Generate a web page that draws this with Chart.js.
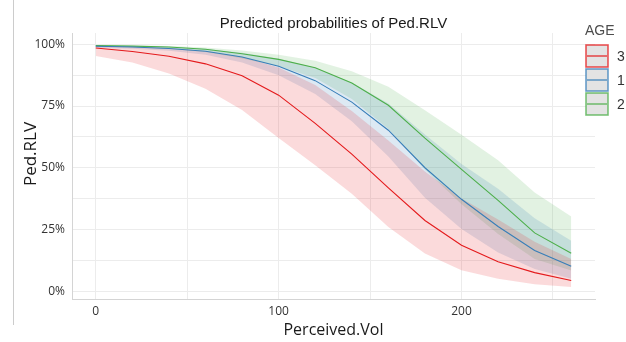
<!DOCTYPE html>
<html>
<head>
<meta charset="utf-8">
<script src="https://cdn.jsdelivr.net/npm/chart.js@4/dist/chart.umd.min.js"></script>
<style>
  html, body { margin: 0; padding: 0; background: #ffffff; }
  #wrap { width: 626px; height: 342px; }
</style>
</head>
<body>
<div id="wrap"><canvas id="my_chart" width="626" height="342"></canvas></div>
<script>
// x positions (Perceived.Vol)
var perceivedVol = [0, 20, 40, 60, 80, 100, 120, 140, 160, 180, 200, 220, 240, 260];

// predicted probabilities (%) per AGE group, with confidence band
var age3 = [98.5, 97.1, 95.2, 92.1, 87.3, 79.4, 68.0, 55.5, 41.8, 28.6, 18.6, 11.9, 7.5, 4.3];
var age3Low = [95.3, 92.6, 88.2, 82.0, 73.4, 62.0, 51.0, 39.5, 26.0, 15.2, 8.5, 5.0, 2.8, 1.7];
var age3High = [99.5, 99.1, 98.5, 97.3, 95.0, 90.6, 83.5, 73.0, 61.0, 48.5, 37.5, 29.0, 20.0, 13.0];

var age1 = [99.2, 98.9, 98.3, 97.2, 94.9, 91.1, 85.3, 76.6, 65.2, 50.0, 37.2, 26.2, 16.5, 10.1];
var age1Low = [98.6, 98.2, 97.4, 95.8, 92.6, 87.5, 79.9, 68.8, 54.5, 37.8, 25.2, 15.6, 9.0, 5.0];
var age1High = [99.5, 99.35, 99.0, 98.2, 96.6, 94.2, 90.5, 84.5, 76.0, 63.5, 51.5, 41.5, 29.5, 20.4];

var age2 = [99.5, 99.3, 98.9, 98.0, 96.2, 93.9, 90.5, 84.3, 75.3, 62.0, 49.3, 36.8, 23.6, 15.3];
var age2Low = [99.1, 98.8, 98.2, 96.9, 94.3, 91.1, 86.4, 77.9, 65.7, 49.3, 35.2, 23.1, 13.0, 8.3];
var age2High = [99.7, 99.6, 99.3, 98.7, 97.5, 95.8, 93.4, 89.1, 82.8, 73.3, 63.4, 53.0, 40.0, 30.2];

// legend order and tick values
var legendLabels = ['3', '1', '2'];
var xTicks = [0, 50, 100, 150, 200, 250];
var xTickLabels = [0, 100, 200];
var yTicks = [0, 12.5, 25, 37.5, 50, 62.5, 75, 87.5, 100];
var yTickLabels = [0, 25, 50, 75, 100];

const RED = '#E41A1C';
const BLUE = '#377EB8';
const GREEN = '#4DAF4A';
const COLORS = [RED, BLUE, GREEN];

function pts(values) {
    return values.map(function (v, i) { return {x: perceivedVol[i], y: v}; });
}

function band(values, color, fillNext) {
    return {
        data: pts(values),
        borderColor: 'transparent',
        borderWidth: 0,
        backgroundColor: color,
        pointRadius: 0,
        fill: fillNext ? '+1' : false,
        tension: 0,
        order: 2
    };
}

function line(values, color) {
    return {
        data: pts(values),
        borderColor: color,
        borderWidth: 1.1,
        pointRadius: 0,
        fill: false,
        tension: 0,
        order: 0
    };
}

// extra text: title, y title, legend, frame line
var extras = {
    id: 'extras',
    afterDraw: function (chart) {
        var c = chart.ctx;
        var area = chart.chartArea;
        c.save();
        c.strokeStyle = '#cccccc';
        c.lineWidth = 1;
        c.beginPath();
        c.moveTo(13.5, 0);
        c.lineTo(13.5, 325);
        c.stroke();

        c.fillStyle = '#1a1a1a';
        c.font = '15px "Liberation Sans", Arial, sans-serif';
        c.textAlign = 'center';
        c.textBaseline = 'alphabetic';
        c.fillText('Predicted probabilities of Ped.RLV', (area.left + area.right) / 2, 28);

        c.save();
        c.translate(31, 154);
        c.rotate(-Math.PI / 2);
        c.font = '17px "Open Sans", sans-serif';
        c.textBaseline = 'middle';
        c.fillText('Ped.RLV', 0, 0);
        c.restore();

        c.textAlign = 'left';
        c.fillStyle = '#4d4d4d';
        c.font = '14px "Liberation Sans", Arial, sans-serif';
        c.fillText('AGE', 585, 35);

        for (var i = 0; i < legendLabels.length; i++) {
            var y0 = 45 + i * 24;
            c.fillStyle = '#e3e3e3';
            c.fillRect(586, y0, 22, 22);
            c.globalAlpha = 0.75;
            c.strokeStyle = COLORS[i];
            c.lineWidth = 1.6;
            c.strokeRect(586, y0, 22, 22);
            c.globalAlpha = 1;
            c.lineWidth = 1.2;
            c.beginPath();
            c.moveTo(587, y0 + 11);
            c.lineTo(607, y0 + 11);
            c.stroke();
            c.fillStyle = '#333333';
            c.textBaseline = 'middle';
            c.fillText(legendLabels[i], 617, y0 + 12);
            c.textBaseline = 'alphabetic';
        }
        c.restore();
    }
};

var ctx = document.getElementById('my_chart').getContext('2d');
let chart = new Chart(ctx, {
    type: 'line',
    data: {
        datasets: [
            band(age3High, 'rgba(228,26,28,0.16)', true),
            band(age3Low, 'rgba(228,26,28,0.16)', false),
            band(age1High, 'rgba(55,126,184,0.17)', true),
            band(age1Low, 'rgba(55,126,184,0.17)', false),
            band(age2High, 'rgba(77,175,74,0.16)', true),
            band(age2Low, 'rgba(77,175,74,0.16)', false),
            line(age3, RED),
            line(age1, BLUE),
            line(age2, GREEN)
        ]
    },
    options: {
        responsive: false,
        animation: false,
        devicePixelRatio: 1,
        layout: {
            padding: {top: 33, right: 31, left: 0, bottom: 0}
        },
        plugins: {
            legend: {display: false},
            tooltip: {enabled: false},
            title: {display: false}
        },
        scales: {
            x: {
                type: 'linear',
                min: -13,
                max: 273,
                afterBuildTicks: function (s) {
                    s.ticks = xTicks.map(function (v) { return {value: v}; });
                },
                afterFit: function (s) { s.height = 43; },
                ticks: {
                    autoSkip: false,
                    maxRotation: 0,
                    padding: 5,
                    color: '#333333',
                    font: {family: '"Open Sans", sans-serif', size: 12},
                    callback: function (v) {
                        return xTickLabels.indexOf(v) >= 0 ? String(v) : '';
                    }
                },
                grid: {color: '#ececec', drawTicks: false},
                border: {display: true, color: '#d4d4d4'},
                title: {
                    display: true,
                    text: 'Perceived.Vol',
                    color: '#1a1a1a',
                    font: {family: '"Open Sans", sans-serif', size: 16},
                    padding: {top: 0, bottom: 2}
                }
            },
            y: {
                type: 'linear',
                min: -3.2,
                max: 104.6,
                afterBuildTicks: function (s) {
                    s.ticks = yTicks.map(function (v) { return {value: v}; });
                },
                afterFit: function (s) { s.width = 72; },
                ticks: {
                    autoSkip: false,
                    padding: 7,
                    color: '#333333',
                    font: {family: '"Open Sans", sans-serif', size: 12},
                    callback: function (v) {
                        return yTickLabels.indexOf(v) >= 0 ? v + '%' : '';
                    }
                },
                grid: {color: '#ececec', drawTicks: false},
                border: {display: true, color: '#d4d4d4'}
            }
        }
    },
    plugins: [extras]
});
</script>
</body>
</html>
